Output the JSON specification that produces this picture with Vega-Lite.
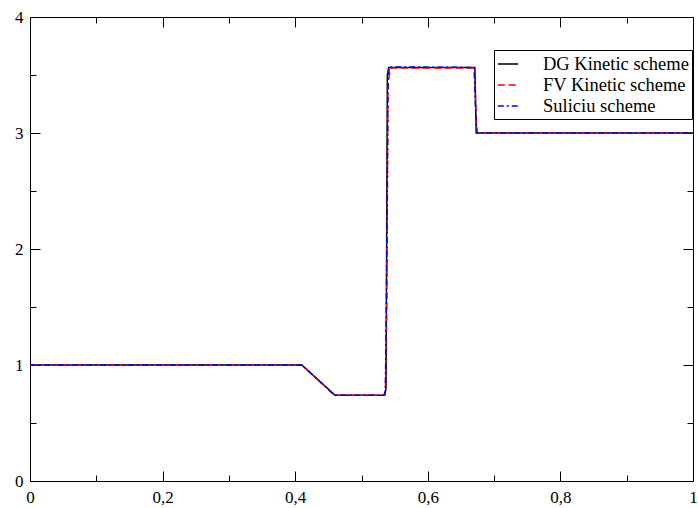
{
  "$schema": "https://vega.github.io/schema/vega-lite/v6.json",
  "width": 663,
  "height": 464,
  "autosize": {"type": "none"},
  "padding": {"left": 30, "top": 17, "right": 5, "bottom": 27},
  "background": "white",
  "config": {
    "view": {"stroke": "black", "strokeWidth": 1},
    "font": "Liberation Serif",
    "axis": {
      "domain": false,
      "grid": false,
      "tickColor": "black",
      "tickWidth": 1,
      "labelFont": "Liberation Serif",
      "labelFontSize": 16,
      "labelColor": "black",
      "title": null
    },
    "legend": {
      "labelFont": "Liberation Serif"
    }
  },
  "data": {
    "values": [
      {"series": "DG Kinetic scheme", "x": 0, "y": 1},
      {"series": "DG Kinetic scheme", "x": 0.41, "y": 1},
      {"series": "DG Kinetic scheme", "x": 0.46, "y": 0.74},
      {"series": "DG Kinetic scheme", "x": 0.535, "y": 0.74},
      {"series": "DG Kinetic scheme", "x": 0.537, "y": 0.8},
      {"series": "DG Kinetic scheme", "x": 0.539, "y": 3.5},
      {"series": "DG Kinetic scheme", "x": 0.541, "y": 3.565},
      {"series": "DG Kinetic scheme", "x": 0.671, "y": 3.565},
      {"series": "DG Kinetic scheme", "x": 0.673, "y": 3.0},
      {"series": "DG Kinetic scheme", "x": 1, "y": 3},
      {"series": "FV Kinetic scheme", "x": 0, "y": 1},
      {"series": "FV Kinetic scheme", "x": 0.408, "y": 1},
      {"series": "FV Kinetic scheme", "x": 0.412, "y": 0.99},
      {"series": "FV Kinetic scheme", "x": 0.458, "y": 0.745},
      {"series": "FV Kinetic scheme", "x": 0.462, "y": 0.74},
      {"series": "FV Kinetic scheme", "x": 0.534, "y": 0.74},
      {"series": "FV Kinetic scheme", "x": 0.536, "y": 0.76},
      {"series": "FV Kinetic scheme", "x": 0.538, "y": 1.5},
      {"series": "FV Kinetic scheme", "x": 0.54, "y": 3.4},
      {"series": "FV Kinetic scheme", "x": 0.543, "y": 3.56},
      {"series": "FV Kinetic scheme", "x": 0.67, "y": 3.56},
      {"series": "FV Kinetic scheme", "x": 0.672, "y": 3.3},
      {"series": "FV Kinetic scheme", "x": 0.674, "y": 3.0},
      {"series": "FV Kinetic scheme", "x": 1, "y": 3},
      {"series": "Suliciu scheme", "x": 0, "y": 1},
      {"series": "Suliciu scheme", "x": 0.409, "y": 1},
      {"series": "Suliciu scheme", "x": 0.413, "y": 0.985},
      {"series": "Suliciu scheme", "x": 0.459, "y": 0.742},
      {"series": "Suliciu scheme", "x": 0.463, "y": 0.74},
      {"series": "Suliciu scheme", "x": 0.534, "y": 0.74},
      {"series": "Suliciu scheme", "x": 0.536, "y": 0.78},
      {"series": "Suliciu scheme", "x": 0.538, "y": 1.8},
      {"series": "Suliciu scheme", "x": 0.54, "y": 3.45},
      {"series": "Suliciu scheme", "x": 0.542, "y": 3.57},
      {"series": "Suliciu scheme", "x": 0.67, "y": 3.565},
      {"series": "Suliciu scheme", "x": 0.672, "y": 3.2},
      {"series": "Suliciu scheme", "x": 0.674, "y": 3.0},
      {"series": "Suliciu scheme", "x": 1, "y": 3}
    ]
  },
  "resolve": {"axis": {"x": "independent", "y": "independent"}},
  "layer": [
    {
      "mark": {"type": "line", "strokeWidth": 1.5},
      "encoding": {
        "x": {
          "field": "x", "type": "quantitative",
          "scale": {"domain": [0, 1], "nice": false, "zero": false},
          "axis": {"orient": "bottom", "values": [0, 0.2, 0.4, 0.6, 0.8, 1], "tickSize": -10, "labelPadding": 18, "labelFlush": false, "labelOverlap": false, "labelFont": "Liberation Serif", "labelFontSize": 17, "labelExpr": "replace(format(datum.value, '~g'), '.', ',')"}
        },
        "y": {
          "field": "y", "type": "quantitative",
          "scale": {"domain": [0, 4], "nice": false, "zero": false},
          "axis": {"orient": "left", "values": [0, 1, 2, 3, 4], "tickSize": -10, "labelPadding": 17, "labelFlush": false, "labelOverlap": false, "labelFont": "Liberation Serif", "labelFontSize": 17, "format": "d"}
        },
        "color": {
          "field": "series", "type": "nominal",
          "scale": {"domain": ["DG Kinetic scheme", "FV Kinetic scheme", "Suliciu scheme"], "range": ["black", "red", "blue"]},
          "legend": {
            "title": null,
            "orient": "none",
            "legendX": 464,
            "legendY": 33,
            "fillColor": "white",
            "strokeColor": "black",
            "padding": 3,
            "symbolType": "stroke",
            "symbolSize": 420,
            "symbolStrokeWidth": 1.5,
            "labelFont": "Liberation Serif",
            "labelFontSize": 18.5,
            "labelColor": "black",
            "labelOffset": 24,
            "rowPadding": -1
          }
        },
        "strokeDash": {
          "field": "series", "type": "nominal",
          "scale": {"domain": ["DG Kinetic scheme", "FV Kinetic scheme", "Suliciu scheme"], "range": [[1, 0], [7, 4], [6, 3, 2, 3]]},
          "legend": null
        },
        "order": {"field": "series"}
      }
    },
    {
      "mark": {"type": "line", "opacity": 0},
      "encoding": {
        "x": {"field": "x", "type": "quantitative", "axis": {"orient": "bottom", "values": [0.1, 0.3, 0.5, 0.7, 0.9], "tickSize": -6, "labels": false}},
        "y": {"field": "y", "type": "quantitative", "axis": {"orient": "left", "values": [0.5, 1.5, 2.5, 3.5], "tickSize": -6, "labels": false}},
        "detail": {"field": "series"}
      }
    },
    {
      "mark": {"type": "line", "opacity": 0},
      "encoding": {
        "x": {"field": "x", "type": "quantitative", "axis": {"orient": "top", "values": [0, 0.2, 0.4, 0.6, 0.8, 1], "tickSize": -10, "labels": false}},
        "y": {"field": "y", "type": "quantitative", "axis": {"orient": "right", "values": [0, 1, 2, 3, 4], "tickSize": -10, "labels": false}},
        "detail": {"field": "series"}
      }
    },
    {
      "mark": {"type": "line", "opacity": 0},
      "encoding": {
        "x": {"field": "x", "type": "quantitative", "axis": {"orient": "top", "values": [0.1, 0.3, 0.5, 0.7, 0.9], "tickSize": -6, "labels": false}},
        "y": {"field": "y", "type": "quantitative", "axis": {"orient": "right", "values": [0.5, 1.5, 2.5, 3.5], "tickSize": -6, "labels": false}},
        "detail": {"field": "series"}
      }
    }
  ]
}
